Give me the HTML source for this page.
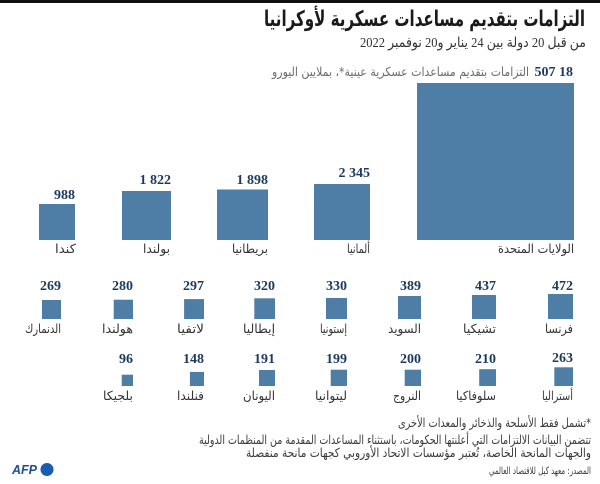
<!DOCTYPE html>
<html>
<head>
<meta charset="utf-8">
<style>
html,body{margin:0;padding:0;background:#fff;}
body{width:600px;height:484px;overflow:hidden;}
svg{display:block;}
.ar{font-family:"DejaVu Sans",sans-serif;}
.lab{font-family:"DejaVu Sans",sans-serif;font-size:12.5px;fill:#333;}
.num{font-family:"Liberation Serif",serif;font-weight:bold;font-size:14px;fill:#1b3a5e;}
.bar{fill:#4e7da5;}
.fn{font-family:"DejaVu Sans",sans-serif;font-size:12.5px;fill:#3a3a3a;}
</style>
</head>
<body>
<svg width="600" height="484" viewBox="0 0 600 484" xmlns="http://www.w3.org/2000/svg">
<rect x="0" y="0" width="600" height="484" fill="#fff"/>
<rect x="0" y="0" width="600" height="3" fill="#111"/>

<!-- Title -->
<text x="585" y="26" text-anchor="end" class="ar" font-size="21.5" font-weight="bold" fill="#1a1a1a" textLength="321" lengthAdjust="spacingAndGlyphs">التزامات بتقديم مساعدات عسكرية لأوكرانيا</text>
<text x="586" y="47" text-anchor="end" font-family="Liberation Serif, DejaVu Sans, serif" font-size="14" fill="#333" textLength="226" lengthAdjust="spacingAndGlyphs">من قبل 20 دولة بين 24 يناير و20 نوفمبر 2022</text>

<!-- Legend line -->
<text x="573" y="76" text-anchor="end" class="num">18</text>
<text x="555.5" y="76" text-anchor="end" class="num">507</text>
<text x="529" y="76" text-anchor="end" class="ar" font-size="12.5" fill="#6b6b6b" textLength="257" lengthAdjust="spacingAndGlyphs">التزامات بتقديم مساعدات عسكرية عينية*، بملايين اليورو</text>

<!-- Row 1 big bars (bottom 240) -->
<rect class="bar" x="417" y="83" width="157" height="157"/>
<text x="574" y="253" text-anchor="end" class="lab" textLength="76" lengthAdjust="spacingAndGlyphs">الولايات المتحدة</text>

<rect class="bar" x="314" y="184" width="56" height="56"/>
<text x="370" y="177" text-anchor="end" class="num">2 345</text>
<text x="370" y="253" text-anchor="end" class="lab" textLength="23" lengthAdjust="spacingAndGlyphs">ألمانيا</text>

<rect class="bar" x="217" y="189.5" width="51" height="50.5"/>
<text x="268" y="184" text-anchor="end" class="num">1 898</text>
<text x="268" y="253" text-anchor="end" class="lab" textLength="36" lengthAdjust="spacingAndGlyphs">بريطانيا</text>

<rect class="bar" x="122" y="191" width="49" height="49"/>
<text x="171" y="184" text-anchor="end" class="num">1 822</text>
<text x="170" y="253" text-anchor="end" class="lab" textLength="27" lengthAdjust="spacingAndGlyphs">بولندا</text>

<rect class="bar" x="39" y="204" width="36" height="36"/>
<text x="75" y="199" text-anchor="end" class="num">988</text>
<text x="76" y="253" text-anchor="end" class="lab" textLength="21" lengthAdjust="spacingAndGlyphs">كندا</text>

<!-- Row 2 (bottom 319) -->
<rect class="bar" x="548" y="294" width="25" height="25"/>
<text x="573" y="290" text-anchor="end" class="num">472</text>
<text x="573" y="333" text-anchor="end" class="lab" textLength="28" lengthAdjust="spacingAndGlyphs">فرنسا</text>

<rect class="bar" x="472" y="295" width="24" height="24"/>
<text x="496" y="290" text-anchor="end" class="num">437</text>
<text x="496" y="333" text-anchor="end" class="lab" textLength="33" lengthAdjust="spacingAndGlyphs">تشيكيا</text>

<rect class="bar" x="398" y="296" width="23" height="23"/>
<text x="421" y="290" text-anchor="end" class="num">389</text>
<text x="421" y="333" text-anchor="end" class="lab" textLength="33" lengthAdjust="spacingAndGlyphs">السويد</text>

<rect class="bar" x="326" y="298" width="21" height="21"/>
<text x="347" y="290" text-anchor="end" class="num">330</text>
<text x="347" y="333" text-anchor="end" class="lab" textLength="27" lengthAdjust="spacingAndGlyphs">إستونيا</text>

<rect class="bar" x="254.3" y="298.3" width="20.7" height="20.7"/>
<text x="275" y="290" text-anchor="end" class="num">320</text>
<text x="275" y="333" text-anchor="end" class="lab" textLength="32" lengthAdjust="spacingAndGlyphs">إيطاليا</text>

<rect class="bar" x="184.1" y="299.1" width="19.9" height="19.9"/>
<text x="204" y="290" text-anchor="end" class="num">297</text>
<text x="204" y="333" text-anchor="end" class="lab" textLength="27" lengthAdjust="spacingAndGlyphs">لاتفيا</text>

<rect class="bar" x="113.7" y="299.7" width="19.3" height="19.3"/>
<text x="133" y="290" text-anchor="end" class="num">280</text>
<text x="133" y="333" text-anchor="end" class="lab" textLength="31" lengthAdjust="spacingAndGlyphs">هولندا</text>

<rect class="bar" x="42" y="300" width="19" height="19"/>
<text x="61" y="290" text-anchor="end" class="num">269</text>
<text x="61" y="333" text-anchor="end" class="lab" textLength="36" lengthAdjust="spacingAndGlyphs">الدنمارك</text>

<!-- Row 3 (bottom 386) -->
<rect class="bar" x="554.3" y="367.3" width="18.7" height="18.7"/>
<text x="573" y="362" text-anchor="end" class="num">263</text>
<text x="573" y="400" text-anchor="end" class="lab" textLength="31" lengthAdjust="spacingAndGlyphs">أستراليا</text>

<rect class="bar" x="479.2" y="369.2" width="16.8" height="16.8"/>
<text x="496" y="363" text-anchor="end" class="num">210</text>
<text x="496" y="400" text-anchor="end" class="lab" textLength="40" lengthAdjust="spacingAndGlyphs">سلوفاكيا</text>

<rect class="bar" x="404.7" y="369.7" width="16.3" height="16.3"/>
<text x="421" y="363" text-anchor="end" class="num">200</text>
<text x="421" y="400" text-anchor="end" class="lab" textLength="28" lengthAdjust="spacingAndGlyphs">النروج</text>

<rect class="bar" x="330.7" y="369.7" width="16.3" height="16.3"/>
<text x="347" y="363" text-anchor="end" class="num">199</text>
<text x="347" y="400" text-anchor="end" class="lab" textLength="32" lengthAdjust="spacingAndGlyphs">ليتوانيا</text>

<rect class="bar" x="259" y="370" width="16" height="16"/>
<text x="275" y="363" text-anchor="end" class="num">191</text>
<text x="275" y="400" text-anchor="end" class="lab" textLength="32" lengthAdjust="spacingAndGlyphs">اليونان</text>

<rect class="bar" x="189.9" y="371.9" width="14.1" height="14.1"/>
<text x="204" y="363" text-anchor="end" class="num">148</text>
<text x="204" y="400" text-anchor="end" class="lab" textLength="27" lengthAdjust="spacingAndGlyphs">فنلندا</text>

<rect class="bar" x="121.7" y="374.7" width="11.3" height="11.3"/>
<text x="133" y="363" text-anchor="end" class="num">96</text>
<text x="133" y="400" text-anchor="end" class="lab" textLength="30" lengthAdjust="spacingAndGlyphs">بلجيكا</text>

<!-- Footnotes -->
<text x="591" y="427" text-anchor="end" class="fn" textLength="193" lengthAdjust="spacingAndGlyphs">&#x200F;*تشمل فقط الأسلحة والذخائر والمعدات الأخرى</text>
<text x="591" y="444" text-anchor="end" class="fn" textLength="392" lengthAdjust="spacingAndGlyphs">تتضمن البيانات الالتزامات التي أعلنتها الحكومات، باستثناء المساعدات المقدمة من المنظمات الدولية</text>
<text x="591" y="457" text-anchor="end" class="fn" textLength="345" lengthAdjust="spacingAndGlyphs">والجهات المانحة الخاصة، تُعتبر مؤسسات الاتحاد الأوروبي كجهات مانحة منفصلة</text>
<text x="591" y="474" text-anchor="end" class="fn" style="font-size:10px" fill="#555" textLength="102" lengthAdjust="spacingAndGlyphs">المصدر: معهد كيل للاقتصاد العالمي</text>

<!-- AFP logo -->
<text x="12" y="474" font-family="Liberation Sans, sans-serif" font-weight="bold" font-style="italic" font-size="12.5" fill="#1d4f9c" textLength="25" lengthAdjust="spacingAndGlyphs">AFP</text>
<circle cx="47" cy="469.5" r="6.5" fill="#1a5cb0"/>
</svg>
</body>
</html>
